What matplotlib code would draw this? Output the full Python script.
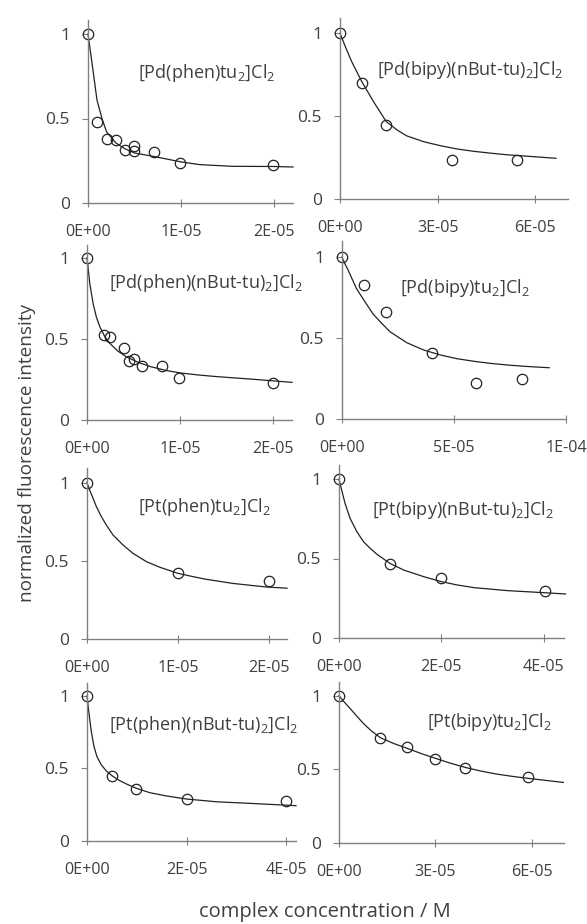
import matplotlib
matplotlib.use('Agg')
import matplotlib.pyplot as plt

plt.rcParams['font.family'] = ['Open Sans', 'DejaVu Sans']
plt.rcParams['mathtext.fontset'] = 'custom'
plt.rcParams['mathtext.rm'] = 'Open Sans'
plt.rcParams['mathtext.default'] = 'regular'

# ---- data (concentration in M, normalized intensity) ----
names = [r'[Pd(phen)tu$_2$]Cl$_2$', r'[Pd(bipy)(nBut-tu)$_2$]Cl$_2$',
         r'[Pd(phen)(nBut-tu)$_2$]Cl$_2$', r'[Pd(bipy)tu$_2$]Cl$_2$',
         r'[Pt(phen)tu$_2$]Cl$_2$', r'[Pt(bipy)(nBut-tu)$_2$]Cl$_2$',
         r'[Pt(phen)(nBut-tu)$_2$]Cl$_2$', r'[Pt(bipy)tu$_2$]Cl$_2$']

pts_x1 = [0, 0.96e-6, 2.0e-6, 3.0e-6, 4.0e-6, 4.9e-6, 4.9e-6, 7.06e-6, 9.86e-6, 1.99e-5]
pts_y1 = [1.0, 0.477, 0.379, 0.371, 0.316, 0.335, 0.306, 0.30, 0.237, 0.223]
fit_x1 = [0, 0.25e-6, 0.5e-6, 0.96e-6, 1.5e-6, 2.0e-6, 3.0e-6, 4.0e-6, 5.0e-6, 7.0e-6,
          1.0e-5, 1.2e-5, 1.55e-5, 2.0e-5, 2.2e-5]
fit_y1 = [1.0, 0.90, 0.80, 0.61, 0.50, 0.42, 0.355, 0.32, 0.296, 0.276,
          0.243, 0.227, 0.217, 0.216, 0.213]

pts_x2 = [0, 0.67e-5, 1.42e-5, 3.44e-5, 5.42e-5]
pts_y2 = [1.0, 0.699, 0.448, 0.235, 0.237]
fit_x2 = [0, 0.205e-5, 0.36e-5, 0.514e-5, 0.668e-5, 1.03e-5, 1.42e-5, 1.75e-5, 2.05e-5,
          2.57e-5, 3.08e-5, 3.60e-5, 4.11e-5, 4.62e-5, 5.14e-5, 5.65e-5, 6.63e-5]
fit_y2 = [1.0, 0.900, 0.829, 0.769, 0.709, 0.588, 0.468, 0.418, 0.382,
          0.347, 0.323, 0.303, 0.289, 0.278, 0.268, 0.261, 0.247]

pts_x3 = [0, 0.18e-5, 0.25e-5, 0.40e-5, 0.45e-5, 0.50e-5, 0.59e-5, 0.81e-5, 0.99e-5, 2.0e-5]
pts_y3 = [1.0, 0.524, 0.513, 0.441, 0.363, 0.374, 0.335, 0.333, 0.261, 0.226]
fit_x3 = [0, 0.03e-5, 0.065e-5, 0.1e-5, 0.137e-5, 0.19e-5, 0.245e-5, 0.33e-5, 0.42e-5,
          0.55e-5, 0.68e-5, 0.85e-5, 1.0e-5, 1.2e-5, 1.4e-5, 1.76e-5, 2.2e-5]
fit_y3 = [1.0, 0.84, 0.719, 0.635, 0.575, 0.515, 0.472, 0.425, 0.39,
          0.355, 0.329, 0.305, 0.29, 0.277, 0.267, 0.252, 0.232]

pts_x4 = [0, 0.99e-5, 1.96e-5, 4.01e-5, 6.0e-5, 8.05e-5]
pts_y4 = [1.0, 0.829, 0.66, 0.41, 0.225, 0.245]
fit_x4 = [0, 0.12e-5, 0.27e-5, 0.64e-5, 1.02e-5, 1.39e-5, 1.77e-5, 2.14e-5, 2.89e-5,
          3.64e-5, 4.39e-5, 5.13e-5, 5.88e-5, 6.63e-5, 7.38e-5, 8.13e-5, 9.25e-5]
fit_y4 = [1.0, 0.963, 0.922, 0.808, 0.726, 0.649, 0.592, 0.540, 0.472,
          0.427, 0.396, 0.373, 0.357, 0.344, 0.334, 0.326, 0.317]

pts_x5 = [0, 1.0e-5, 2.0e-5]
pts_y5 = [1.0, 0.421, 0.372]
fit_x5 = [0, 0.029e-5, 0.066e-5, 0.103e-5, 0.158e-5, 0.212e-5, 0.286e-5, 0.396e-5, 0.505e-5,
          0.652e-5, 0.80e-5, 1.0e-5, 1.165e-5, 1.31e-5, 1.6e-5, 1.79e-5, 1.97e-5, 2.2e-5]
fit_y5 = [1.0, 0.953, 0.900, 0.847, 0.783, 0.730, 0.666, 0.602, 0.549,
          0.496, 0.460, 0.421, 0.400, 0.383, 0.357, 0.345, 0.334, 0.326]

pts_x6 = [0, 0.997e-5, 2.0e-5, 4.02e-5]
pts_y6 = [1.0, 0.465, 0.377, 0.295]
fit_x6 = [0, 0.052e-5, 0.118e-5, 0.216e-5, 0.348e-5, 0.479e-5, 0.61e-5, 0.744e-5, 0.997e-5,
          1.266e-5, 1.66e-5, 2.0e-5, 2.31e-5, 2.64e-5, 3.30e-5, 4.02e-5, 4.43e-5]
fit_y6 = [1.0, 0.933, 0.848, 0.754, 0.67, 0.606, 0.564, 0.526, 0.469,
          0.427, 0.385, 0.354, 0.333, 0.316, 0.297, 0.284, 0.276]

pts_x7 = [0, 0.503e-5, 0.99e-5, 2.0e-5, 3.99e-5]
pts_y7 = [1.0, 0.449, 0.355, 0.286, 0.276]
fit_x7 = [0, 0.04e-5, 0.087e-5, 0.141e-5, 0.20e-5, 0.289e-5, 0.389e-5, 0.503e-5, 0.658e-5,
          0.792e-5, 0.993e-5, 1.26e-5, 1.6e-5, 2.0e-5, 2.6e-5, 3.28e-5, 4.2e-5]
fit_y7 = [1.0, 0.880, 0.753, 0.65, 0.581, 0.523, 0.482, 0.449, 0.415,
          0.392, 0.362, 0.332, 0.309, 0.288, 0.269, 0.258, 0.242]

pts_x8 = [0, 1.29e-5, 2.12e-5, 3.0e-5, 3.93e-5, 5.87e-5]
pts_y8 = [1.0, 0.71, 0.653, 0.569, 0.51, 0.449]
fit_x8 = [0, 0.13e-5, 0.34e-5, 0.55e-5, 0.755e-5, 1.0e-5, 1.29e-5, 1.7e-5, 2.12e-5, 2.55e-5,
          3.0e-5, 3.45e-5, 3.93e-5, 4.4e-5, 4.9e-5, 5.4e-5, 5.87e-5, 6.98e-5]
fit_y8 = [1.0, 0.965, 0.914, 0.862, 0.812, 0.762, 0.714, 0.675, 0.642, 0.607,
          0.574, 0.542, 0.512, 0.488, 0.467, 0.451, 0.438, 0.41]

xticks = [[0, 1e-5, 2e-5], [0, 3e-5, 6e-5], [0, 1e-5, 2e-5], [0, 5e-5, 1e-4],
          [0, 1e-5, 2e-5], [0, 2e-5, 4e-5], [0, 2e-5, 4e-5], [0, 3e-5, 6e-5]]
xlabels = [['0E+00', '1E-05', '2E-05'], ['0E+00', '3E-05', '6E-05'],
           ['0E+00', '1E-05', '2E-05'], ['0E+00', '5E-05', '1E-04'],
           ['0E+00', '1E-05', '2E-05'], ['0E+00', '2E-05', '4E-05'],
           ['0E+00', '2E-05', '4E-05'], ['0E+00', '3E-05', '6E-05']]
xmax = [2.2e-5, 7e-5, 2.2e-5, 1e-4, 2.2e-5, 4.4e-5, 4.2e-5, 7e-5]
yticks = [0, 0.5, 1]
ylabels = ['0', '0.5', '1']

pts = [(pts_x1, pts_y1), (pts_x2, pts_y2), (pts_x3, pts_y3), (pts_x4, pts_y4),
       (pts_x5, pts_y5), (pts_x6, pts_y6), (pts_x7, pts_y7), (pts_x8, pts_y8)]
fits = [(fit_x1, fit_y1), (fit_x2, fit_y2), (fit_x3, fit_y3), (fit_x4, fit_y4),
        (fit_x5, fit_y5), (fit_x6, fit_y6), (fit_x7, fit_y7), (fit_x8, fit_y8)]

# ---- layout in pixels: left, right, y of zero, px per unit, ymax ----
W, H = 587., 924.
boxes = [(88, 293, 203, 169, 1.08), (340, 568, 199.3, 166, 1.09),
         (87, 292, 420, 162.3, 1.08), (342, 566, 419, 161.7, 1.10),
         (87, 287, 639.3, 156.7, 1.09), (339, 564, 637.7, 158.4, 1.09),
         (87, 296, 840.7, 144.7, 1.09), (339, 564, 842.7, 147, 1.095)]
labpos = [(138, 73), (377, 70), (109, 283), (400, 288),
          (138, 507), (372, 510), (109, 725), (427, 722)]

axcol = '#808080'
txtcol = '#404040'

fig = plt.figure(figsize=(5.87, 9.24), dpi=100)
for i in range(8):
    l, r, y0, pu, ym = boxes[i]
    ax = fig.add_axes([l / W, 1 - y0 / H, (r - l) / W, pu * ym / H])
    fx, fy = fits[i]
    px, py = pts[i]
    ax.plot(fx, fy, color='#222222', lw=0.9, clip_on=False)
    ax.plot(px, py, 'o', mfc='none', mec='#222222', ms=7.5, mew=0.9, clip_on=False)
    ax.set_xlim(0, xmax[i])
    ax.set_ylim(0, ym)
    ax.set_xticks(xticks[i])
    ax.set_xticklabels(xlabels[i])
    ax.set_yticks(yticks)
    ax.set_yticklabels(ylabels)
    for s in ['top', 'right']:
        ax.spines[s].set_visible(False)
    for s in ['left', 'bottom']:
        ax.spines[s].set_color(axcol)
        ax.spines[s].set_linewidth(1.0)
    ax.tick_params(axis='x', direction='inout', length=6, color=axcol,
                   labelsize=11.6, labelcolor=txtcol, pad=12)
    ax.tick_params(axis='y', direction='out', length=4, color=axcol,
                   labelsize=12.5, labelcolor=txtcol, pad=9)
    ax.patch.set_alpha(0)
    fig.text(labpos[i][0] / W, 1 - labpos[i][1] / H, names[i], fontsize=13,
             color=txtcol, va='center', ha='left')

fig.text(27 / W, 1 - 453 / H, 'normalized fluorescence intensity', rotation=90,
         fontsize=13.7, color=txtcol, ha='center', va='center')
fig.text(325 / W, 1 - 912 / H, 'complex concentration / M', fontsize=14.5,
         color=txtcol, ha='center', va='center')

fig.savefig('out.png', dpi=100)
